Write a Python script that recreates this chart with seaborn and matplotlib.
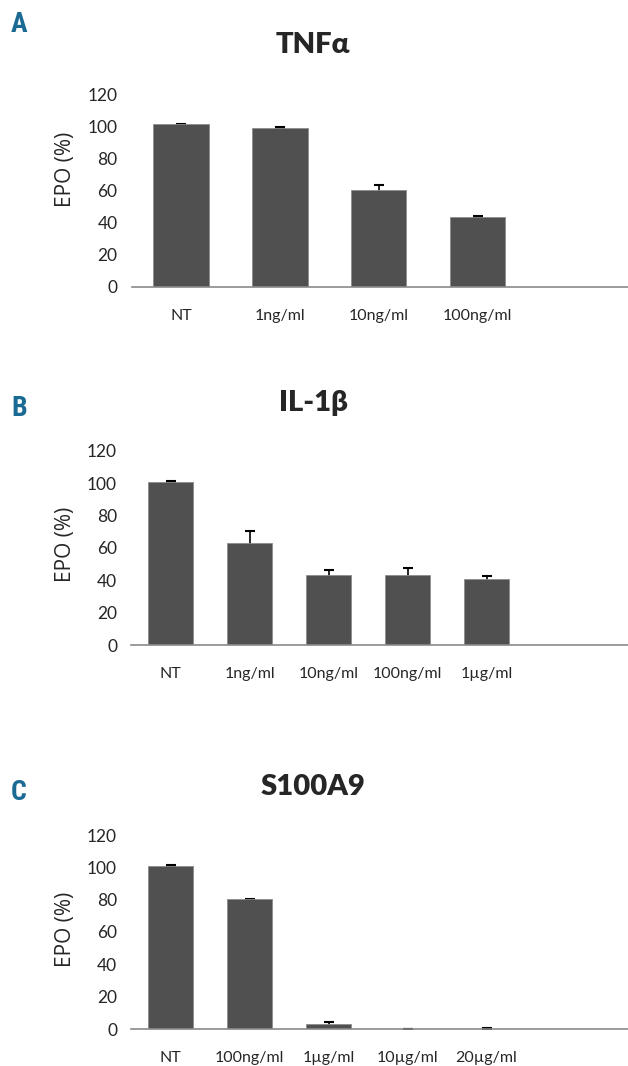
import numpy as np
import pandas as pd
import seaborn as sns
import matplotlib
matplotlib.use("Agg")
import matplotlib.pyplot as plt

# data
tnf_labels = ["NT", "1ng/ml", "10ng/ml", "100ng/ml"]
tnf_values = [101.2, 98.8, 60.5, 43.3]
tnf_err = [0.5, 0.5, 2.7, 0.5]

il1_labels = ["NT", "1ng/ml", "10ng/ml", "100ng/ml", "1µg/ml"]
il1_values = [101.0, 63.1, 43.5, 43.5, 40.8]
il1_err = [0.5, 7.4, 2.7, 4.0, 1.7]

s100_labels = ["NT", "100ng/ml", "1µg/ml", "10µg/ml", "20µg/ml"]
s100_values = [101.0, 80.2, 3.1, 0.0, 0.3]
s100_err = [0.5, 0.5, 1.4, 0.0, 0.6]

titles = ["TNFα", "IL-1β", "S100A9"]
letters = ["A", "B", "C"]

sns.set_theme(style="white")
plt.rcParams["font.family"] = ["Lato", "DejaVu Sans"]

W, H = 628, 1066
fig = plt.figure(figsize=(W / 100, H / 100), dpi=100)

BAR = "#505050"

# (left px, bottom px, top px, right xlim, title y px, letter y px, ylabel y)
layout = [
    (131.5, 286.7, 94.3, 4.52, 45, 24, 0.608),
    (131.0, 645.0, 451.0, 5.79, 403, 408, 0.52),
    (131.0, 1029.0, 835.0, 5.79, 787, 793, 0.515),
]
panels = [
    (tnf_labels, tnf_values, tnf_err),
    (il1_labels, il1_values, il1_err),
    (s100_labels, s100_values, s100_err),
]

for i, ((labels, vals, errs), (lx, by, ty, xr, tiy, ly, yl)) in enumerate(zip(panels, layout)):
    ax = fig.add_axes([lx / W, 1 - by / H, 1 - lx / W, (by - ty) / H])
    df = pd.DataFrame({"dose": labels, "epo": vals})
    sns.barplot(data=df, x="dose", y="epo", color=BAR, width=0.56,
                saturation=1, edgecolor="#8c8c8c", linewidth=0.6, ax=ax,
                zorder=3)
    n = len(vals)
    # symmetric bars drawn behind the columns, so only the upper half shows
    ax.errorbar(np.arange(n), vals, yerr=errs, fmt="none",
                ecolor="black", elinewidth=1.2, capsize=3.6, capthick=1.5,
                zorder=2)
    ax.set_xlim(-0.5, xr)
    ax.set_ylim(0, 120)
    ax.set_yticks(range(0, 121, 20))
    ax.set_xlabel("")
    ax.set_ylabel("EPO (%)", fontsize=15, family=["Open Sans", "DejaVu Sans"])
    ax.yaxis.set_label_coords((76 - lx) / (W - lx), yl)
    for s in ["top", "right", "left"]:
        ax.spines[s].set_visible(False)
    ax.spines["bottom"].set_color("#8a8a8a")
    ax.spines["bottom"].set_linewidth(1.2)
    ax.spines["bottom"].set_zorder(4)
    ax.tick_params(axis="y", length=0, pad=10, labelsize=12.5)
    ax.tick_params(axis="x", length=0, pad=16, labelsize=11.5)

    fig.text(313 / W, 1 - tiy / H, titles[i], ha="center", va="center",
             fontsize=21, fontweight="heavy")
    fig.text(19 / W, 1 - ly / H, letters[i], ha="center", va="center",
             fontsize=20, fontweight="bold", color="#1a6a94",
             family=["Liberation Sans Narrow", "Roboto Condensed", "DejaVu Sans"],
             fontstretch="condensed")

fig.savefig("out.png", dpi=100)
